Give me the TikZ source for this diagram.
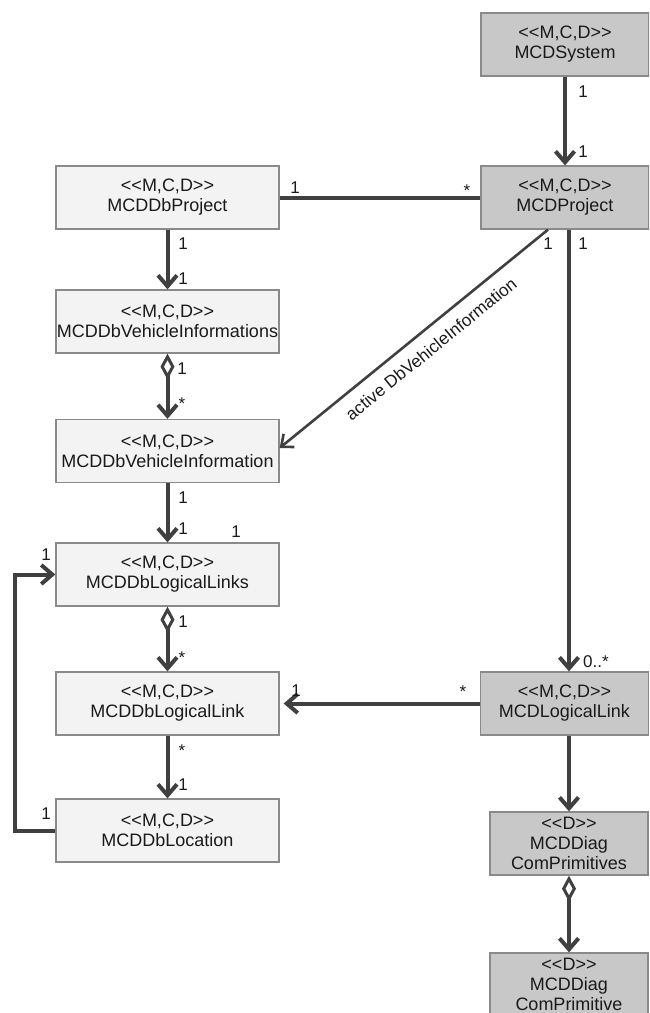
\documentclass[tikz,border=0pt]{standalone}
\usepackage{fontspec}
\newfontfamily\umlfont{Liberation Sans}
\usetikzlibrary{arrows.meta,calc}

\definecolor{lineclr}{HTML}{404040}
\definecolor{lightfill}{HTML}{F3F3F3}
\definecolor{darkfill}{HTML}{C8C8C8}
\definecolor{boxborder}{HTML}{8A8A8A}
\definecolor{textclr}{HTML}{1A1A1A}

\tikzset{
  cls/.style={draw=boxborder, line width=1.3pt, minimum height=63pt, align=center,
    font=\umlfont\fontsize{18}{20}\selectfont, inner sep=0pt, text=textclr},
  dbcls/.style={cls, fill=lightfill, minimum width=223pt},
  mcdcls/.style={cls, fill=darkfill, minimum width=168pt},
  diagcls/.style={cls, fill=darkfill, minimum width=158pt},
  assoc/.style={draw=lineclr, line width=4pt},
  nav/.style={assoc, -{Straight Barb[length=11pt,width=19pt]}},
  thinnav/.style={draw=lineclr, line width=2.6pt, -{Straight Barb[length=10pt,width=17pt]}},
  aggr/.style={assoc, {Diamond[open,length=26pt,width=14pt,line width=3pt]}-{Straight Barb[length=11pt,width=19pt]}},
  mult/.style={font=\umlfont\fontsize{17}{17}\selectfont, inner sep=0pt, anchor=base, text=textclr},
  rolelbl/.style={font=\umlfont\fontsize{17.3}{17.3}\selectfont, inner sep=0pt, text=textclr},
}

\begin{document}
\begin{tikzpicture}[x=1pt,y=-1pt]
  \useasboundingbox (0,0) rectangle (649,1013);
  \clip (0,0) rectangle (649,1013);

  % classes of the running system (right column)
  \node[mcdcls] (sys)  at (565,44.5)  {<<M,C,D>>\\MCDSystem};
  \node[mcdcls] (proj) at (565,197.5) {<<M,C,D>>\\MCDProject};
  \node[mcdcls] (ll)   at (564.5,703.5) {<<M,C,D>>\\MCDLogicalLink};
  \node[diagcls] (dcps) at (569,843.5) {<<D>>\\MCDDiag\\ComPrimitives};
  \node[diagcls] (dcp)  at (569,984.5) {<<D>>\\MCDDiag\\ComPrimitive};

  % database classes (left column)
  \node[dbcls] (dbproj) at (167.5,197.5) {<<M,C,D>>\\MCDDbProject};
  \node[dbcls] (dbvis)  at (167.5,321.5) {<<M,C,D>>\\MCDDbVehicleInformations};
  \node[dbcls] (dbvi)   at (167.5,451)   {<<M,C,D>>\\MCDDbVehicleInformation};
  \node[dbcls] (dblls)  at (167.5,574.5) {<<M,C,D>>\\MCDDbLogicalLinks};
  \node[dbcls] (dbll)   at (167.5,703.5) {<<M,C,D>>\\MCDDbLogicalLink};
  \node[dbcls] (dbloc)  at (167.5,830.5) {<<M,C,D>>\\MCDDbLocation};

  % associations
  \draw[nav] (sys) -- (proj);
  \draw[assoc] (dbproj.east) -- (proj.west);
  \draw[nav] ([xshift=4pt]proj.south) -- ([xshift=4pt]proj.south |- ll.north);
  \draw[thinnav] ([xshift=-17pt]proj.south) -- ([yshift=3pt]dbvi.east)
    node[rolelbl, sloped, pos=0.48, below=11pt] (role) {active DbVehicleInformation};
  \draw[nav] (dbproj) -- (dbvis);
  \draw[aggr] (dbvis) -- (dbvi);
  \draw[nav] (dbvi) -- (dblls);
  \draw[aggr] (dblls) -- (dbll);
  \draw[nav] (dbll) -- (dbloc);
  \coordinate (loopx) at (15,0);
  \draw[nav] (dbloc.west) -- (dbloc.west -| loopx) -- (dblls.west -| loopx) -- (dblls.west);
  \draw[nav, shorten >=4pt] (ll) -- (dbll);
  \draw[nav] (ll.south -| dcps.north) -- (dcps.north);
  \draw[aggr] (dcps) -- (dcp);

  % multiplicities
  \node[mult] (m1)  at (583,97)    {1};
  \node[mult] (m2)  at (583,157)   {1};
  \node[mult] (m3)  at (295,193)   {1};
  \node[mult] (m4)  at (467,196.5) {*};
  \node[mult] (m5)  at (548,249)   {1};
  \node[mult] (m6)  at (583,249)   {1};
  \node[mult] (m7)  at (183,249)   {1};
  \node[mult] (m8)  at (183,284)   {1};
  \node[mult] (m9)  at (182,374)   {1};
  \node[mult] (m10) at (182,409.5) {*};
  \node[mult] (m11) at (183,503)   {1};
  \node[mult] (m12) at (183,534)   {1};
  \node[mult] (m13) at (236,537)   {1};
  \node[mult] (m14) at (46,560)    {1};
  \node[mult] (m15) at (183,627)   {1};
  \node[mult] (m16) at (182,663.5) {*};
  \node[mult] (m17) at (182,756.5) {*};
  \node[mult] (m18) at (183,790)   {1};
  \node[mult] (m19) at (46,819)    {1};
  \node[mult] (m20) at (296,696)   {1};
  \node[mult] (m21) at (463,697.5) {*};
  \node[mult] (m22) at (596,667)   {0..*};
\end{tikzpicture}
\end{document}
